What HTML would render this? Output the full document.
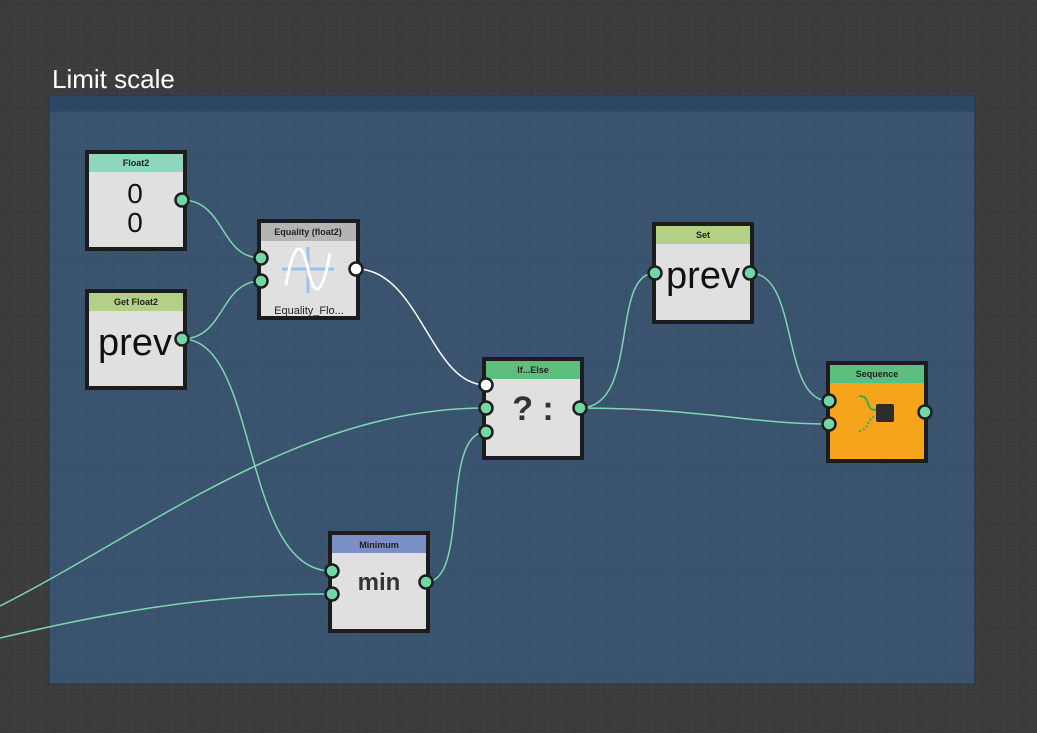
<!DOCTYPE html>
<html><head><meta charset="utf-8"><style>
html,body{margin:0;padding:0;background:#3c3c3c;overflow:hidden}
svg{display:block}
text{font-family:"Liberation Sans","DejaVu Sans",sans-serif}
</style></head><body>
<svg width="1037" height="733" viewBox="0 0 1037 733" xmlns="http://www.w3.org/2000/svg">
<defs>
<pattern id="g" width="13" height="13" patternUnits="userSpaceOnUse" x="2" y="2">
<path d="M13 0H0V13" fill="none" stroke="#464646" stroke-width="1"/>
</pattern>
<pattern id="G" width="52" height="52" patternUnits="userSpaceOnUse" x="2" y="2">
<path d="M52 0H0V52" fill="none" stroke="#333" stroke-width="1"/>
</pattern>
<pattern id="b" width="13" height="13" patternUnits="userSpaceOnUse" x="2" y="2">
<path d="M13 0H0V13" fill="none" stroke="#415871" stroke-width="1"/>
</pattern>
<pattern id="B" width="52" height="52" patternUnits="userSpaceOnUse" x="2" y="2">
<path d="M52 0H0V52" fill="none" stroke="#324a63" stroke-width="1"/>
</pattern>
</defs>
<rect width="1037" height="733" fill="#3c3c3c"/>
<rect width="1037" height="733" fill="url(#g)"/>
<rect width="1037" height="733" fill="url(#G)"/>
<text x="52" y="88" font-size="26" fill="#fff">Limit scale</text>
<rect x="49" y="95" width="926" height="589" fill="#3a536e" stroke="#22354a"/>
<rect x="49" y="95" width="926" height="589" fill="url(#b)"/>
<rect x="49" y="95" width="926" height="589" fill="url(#B)"/>
<rect x="49.5" y="95.5" width="925" height="16" fill="#2c4764"/>

<g fill="none" stroke="#7fd6b0" stroke-width="1.5">
<path d="M182 200 C225 200,220 258,261 258"/>
<path d="M182 339 C225 339,220 281,261 281"/>
<path d="M182 339 C260 339,240 571,332 571"/>
<path d="M426 582 C470 582,440 432,486 432"/>
<path d="M0 606 C150 530,300 408,486 408"/>
<path d="M0 638 C100 615,200 594,332 594"/>
<path d="M580 408 C640 408,610 273,655 273"/>
<path d="M580 408 C700 408,750 424,829 424"/>
<path d="M750 273 C800 273,780 401,829 401"/>
</g>
<path d="M356 269 C420 269,430 385,486 385" fill="none" stroke="#fff" stroke-width="1.5"/>

<g stroke="#1c1c1c" stroke-width="4">
<rect x="87" y="152" width="98" height="97" fill="#e0e0e0"/>
<rect x="87" y="291" width="98" height="97" fill="#e0e0e0"/>
<rect x="259" y="221" width="99" height="97" fill="#e0e0e0"/>
<rect x="484" y="359" width="98" height="99" fill="#e0e0e0"/>
<rect x="654" y="224" width="98" height="98" fill="#e0e0e0"/>
<rect x="828" y="363" width="98" height="98" fill="#f7a41d"/>
<rect x="330" y="533" width="98" height="98" fill="#e0e0e0"/>
</g>
<rect x="89" y="154" width="94" height="18" fill="#8ed6bd"/>
<rect x="89" y="293" width="94" height="18" fill="#b4cf86"/>
<rect x="261" y="223" width="95" height="18" fill="#b4b4b4"/>
<rect x="486" y="361" width="94" height="18" fill="#5cbf7e"/>
<rect x="656" y="226" width="94" height="18" fill="#b4cf86"/>
<rect x="830" y="365" width="94" height="18" fill="#5cbf7e"/>
<rect x="332" y="535" width="94" height="18" fill="#7b8ec6"/>
<g font-size="9" font-weight="bold" fill="#222" text-anchor="middle">
<text x="136" y="166">Float2</text>
<text x="136" y="305">Get Float2</text>
<text x="308" y="235">Equality (float2)</text>
<text x="533" y="373">If...Else</text>
<text x="703" y="238">Set</text>
<text x="877" y="377">Sequence</text>
<text x="379" y="548">Minimum</text>
</g>
<g fill="#111" text-anchor="middle">
<text x="135" y="203" font-size="28">0</text>
<text x="135" y="232" font-size="28">0</text>
<text x="135" y="355" font-size="38">prev</text>
<text x="703" y="288" font-size="38">prev</text>
</g>
<text x="379" y="590" font-size="24" font-weight="bold" fill="#333" text-anchor="middle">min</text>
<text x="533" y="420" font-size="34" font-weight="bold" fill="#333" text-anchor="middle">? :</text>
<text x="309" y="314" font-size="11" fill="#222" text-anchor="middle">Equality_Flo...</text>
<path d="M282 269 H334 M308 247 V293" stroke="#9cc3ee" stroke-width="3"/>
<path d="M286 285 C294 240,302 240,308 269 C314 298,322 298,330 253" fill="none" stroke="#fff" stroke-width="3"/>
<rect x="876" y="404" width="18" height="18" rx="2" fill="#2d2d2d"/>
<path d="M859 396 C872 396,864 410,876 410" fill="none" stroke="#2db34a" stroke-width="2"/>
<path d="M859 431 C870 430,866 418,876 416" fill="none" stroke="#2db34a" stroke-width="2" stroke-dasharray="2 2"/>

<g fill="#6fd8a4" stroke="#1e1e1e" stroke-width="2.5">
<circle cx="182" cy="200" r="6.5"/>
<circle cx="182" cy="339" r="6.5"/>
<circle cx="261" cy="258" r="6.5"/>
<circle cx="261" cy="281" r="6.5"/>
<circle cx="486" cy="408" r="6.5"/>
<circle cx="486" cy="432" r="6.5"/>
<circle cx="580" cy="408" r="6.5"/>
<circle cx="655" cy="273" r="6.5"/>
<circle cx="750" cy="273" r="6.5"/>
<circle cx="829" cy="401" r="6.5"/>
<circle cx="829" cy="424" r="6.5"/>
<circle cx="925" cy="412" r="6.5"/>
<circle cx="332" cy="571" r="6.5"/>
<circle cx="332" cy="594" r="6.5"/>
<circle cx="426" cy="582" r="6.5"/>
</g>
<g fill="#fff" stroke="#1e1e1e" stroke-width="2.5">
<circle cx="356" cy="269" r="6.5"/>
<circle cx="486" cy="385" r="6.5"/>
</g>
</svg>
</body></html>
